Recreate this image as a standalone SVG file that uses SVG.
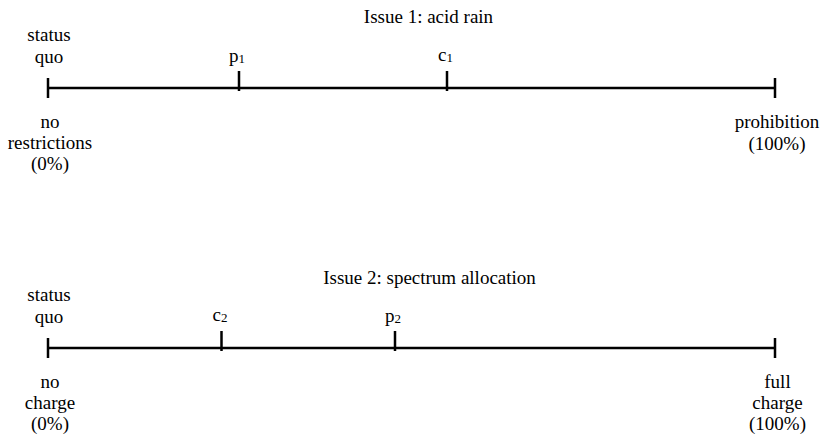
<svg xmlns="http://www.w3.org/2000/svg" width="822" height="436" viewBox="0 0 822 436">
<style>
text{font-family:"Liberation Serif","Times New Roman",serif;font-size:19px;fill:#000;text-anchor:middle}
.sub{font-size:13px}
line{stroke:#000;stroke-width:2.5}
</style>
<rect width="822" height="436" fill="#fff"/>
<g id="connectors">
<line x1="48" y1="88" x2="775" y2="88"/>
<line x1="48" y1="78" x2="48" y2="98"/>
<line x1="775" y1="78" x2="775" y2="98"/>
<line x1="239" y1="71" x2="239" y2="91"/>
<line x1="447" y1="71" x2="447" y2="91"/>
<line x1="48" y1="348" x2="775" y2="348"/>
<line x1="48" y1="338" x2="48" y2="358"/>
<line x1="775" y1="338" x2="775" y2="358"/>
<line x1="221.5" y1="331" x2="221.5" y2="351"/>
<line x1="395" y1="331" x2="395" y2="351"/>
</g>
<g id="issue1">
<text x="428.5" y="23">Issue 1: acid rain</text>
<text x="49" y="41">status</text>
<text x="49" y="62.5">quo</text>
<text x="50" y="128">no</text>
<text x="50" y="149">restrictions</text>
<text x="50" y="170">(0%)</text>
<text x="777" y="128">prohibition</text>
<text x="777" y="150">(100%)</text>
<text x="237" y="62">p<tspan class="sub" dy="1">1</tspan></text>
<text x="445.5" y="61">c<tspan class="sub" dy="1">1</tspan></text>
</g>
<g id="issue2">
<text x="429.5" y="284">Issue 2: spectrum allocation</text>
<text x="49" y="301">status</text>
<text x="49" y="322.5">quo</text>
<text x="50" y="388">no</text>
<text x="50" y="409">charge</text>
<text x="50" y="430">(0%)</text>
<text x="777.5" y="388">full</text>
<text x="777.5" y="409">charge</text>
<text x="777.5" y="430">(100%)</text>
<text x="220" y="321">c<tspan class="sub" dy="1">2</tspan></text>
<text x="393" y="322">p<tspan class="sub" dy="1">2</tspan></text>
</g>
</svg>
